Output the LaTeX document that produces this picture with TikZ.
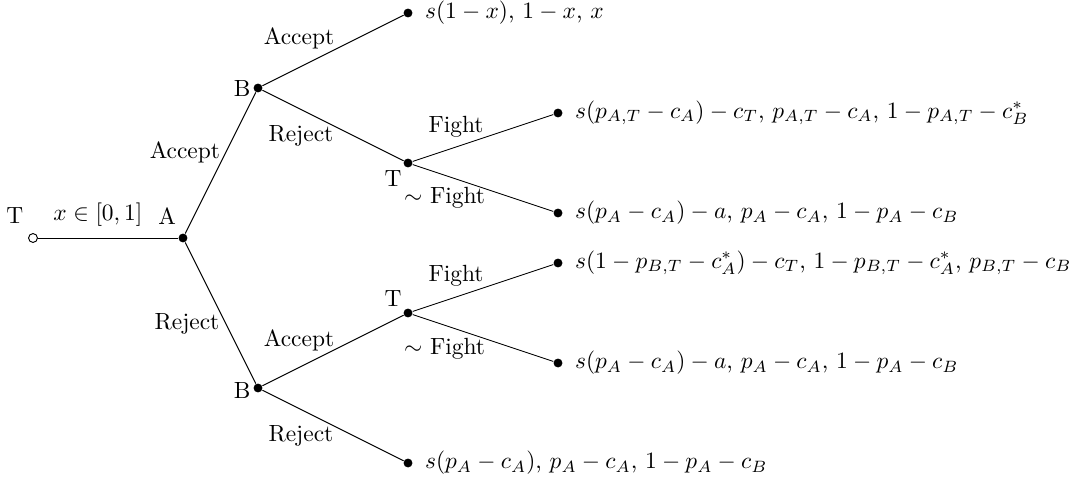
\documentclass[tikz,border=0pt]{standalone}
\usetikzlibrary{positioning}

\begin{document}
\begin{tikzpicture}[
    x=0.9375cm, y=0.9375cm,
    move/.style={circle, fill, inner sep=0pt, minimum size=3.8pt},
    start/.style={circle, draw, fill=white, inner sep=0pt, minimum size=3.8pt},
    player/.style={inner sep=1pt},
    payoff/.style={inner sep=0pt},
    choice/.style={inner sep=1pt, midway},
    branch/.style={thin}
]
\useasboundingbox (-0.528,-3.952) rectangle (16.624,3.808);

% players
\node[start] (root) at (0,0) {};
\node[move] (a) at (2.4,0) {};
\node[move] (b1) at (3.6,2.4) {};
\node[move] (b2) at (3.6,-2.4) {};
\node[move] (t1) at (6,1.2) {};
\node[move] (t2) at (6,-1.2) {};

% terminal histories
\node[move] (acc) at (6,3.6) {};
\node[move] (rej) at (6,-3.6) {};
\node[move] (f1) at (8.4,2.0) {};
\node[move] (nf1) at (8.4,0.4) {};
\node[move] (f2) at (8.4,-0.4) {};
\node[move] (nf2) at (8.4,-2.0) {};

% player names
\node[player, xshift=-7.7pt, yshift=9.4pt] (nroot) at (root) {T};
\node[player, xshift=-6.8pt, yshift=9.4pt] (na) at (a) {A};
\node[player, xshift=-6.8pt, yshift=-0.4pt] (nb1) at (b1) {B};
\node[player, xshift=-6.8pt, yshift=-0.9pt] (nb2) at (b2) {B};
\node[player, xshift=-6.4pt, yshift=-6.8pt] (nt1) at (t1) {T};
\node[player, xshift=-6.4pt, yshift=6pt] (nt2) at (t2) {T};

% payoffs
\node[payoff, right=5pt of acc] (pacc) {$s(1-x)$, $1-x$, $x$};
\node[payoff, right=5pt of f1] (pf1) {$s(p_{A,T}-c_A)-c_T$, $p_{A,T}-c_A$, $1-p_{A,T}-c_B^*$};
\node[payoff, right=5pt of nf1] (pnf1) {$s(p_A-c_A)-a$, $p_A-c_A$, $1-p_A-c_B$};
\node[payoff, right=5pt of f2] (pf2) {$s(1-p_{B,T}-c_A^*)-c_T$, $1-p_{B,T}-c_A^*$, $p_{B,T}-c_B$};
\node[payoff, right=5pt of nf2] (pnf2) {$s(p_A-c_A)-a$, $p_A-c_A$, $1-p_A-c_B$};
\node[payoff, right=5pt of rej] (prej) {$s(p_A-c_A)$, $p_A-c_A$, $1-p_A-c_B$};

% branches
\draw[branch] (root) -- node[choice, xshift=-4.3pt, yshift=9.8pt] {$x\in[0,1]$} (a);
\draw[branch] (a) -- node[choice, xshift=-15.2pt, yshift=4.7pt] {Accept} (b1);
\draw[branch] (a) -- node[choice, xshift=-14.3pt, yshift=-4.7pt] {Reject} (b2);
\draw[branch] (b1) -- node[choice, xshift=-14.5pt, yshift=5.3pt] {Accept} (acc);
\draw[branch] (b1) -- node[choice, xshift=-13.7pt, yshift=-4.3pt] {Reject} (t1);
\draw[branch] (t1) -- node[choice, xshift=-11.5pt, yshift=4.9pt] {Fight} (f1);
\draw[branch] (t1) -- node[choice, xshift=-16.4pt, yshift=-4.1pt] {$\sim$ Fight} (nf1);
\draw[branch] (t2) -- node[choice, xshift=-11.5pt, yshift=5.1pt] {Fight} (f2);
\draw[branch] (t2) -- node[choice, xshift=-16.4pt, yshift=-4.5pt] {$\sim$ Fight} (nf2);
\draw[branch] (b2) -- node[choice, xshift=-14.5pt, yshift=4.5pt] {Accept} (t2);
\draw[branch] (b2) -- node[choice, xshift=-13.7pt, yshift=-4.5pt] {Reject} (rej);
\end{tikzpicture}
\end{document}
